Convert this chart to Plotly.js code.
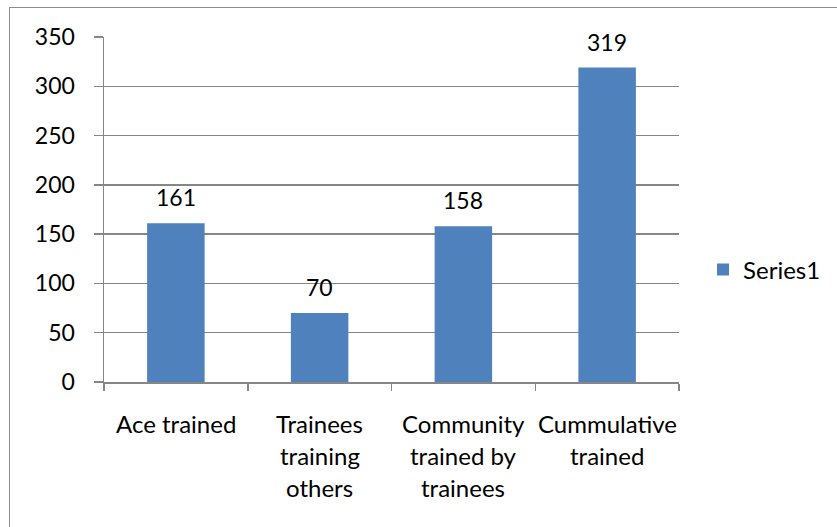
<!DOCTYPE html>
<html><head><meta charset="utf-8">
<script src="https://cdn.plot.ly/plotly-3.0.1.min.js"></script>
<style>
html,body{margin:0;padding:0;background:#fff;overflow:hidden}
#frame{position:absolute;left:9px;top:7px;width:900px;height:600px;border:1.5px solid #8c8c8c;box-sizing:border-box}
#chart{position:absolute;left:0;top:0;width:837px;height:527px}
</style></head>
<body>
<div id="frame"></div>
<div id="chart"></div>
<script>
const categories = ["Ace trained", "Trainees<br>training<br>others", "Community<br>trained by<br>trainees", "Cummulative<br>trained"];
const values = [161, 70, 158, 319];
const seriesName = "Series1";
const yTicks = [0, 50, 100, 150, 200, 250, 300, 350];

const FONT = "Lato, 'Open Sans', sans-serif";
const GRAY = "#868686";

const annotations = [];
values.forEach((v, i) => {
  annotations.push({x: i, y: v, xref: 'x', yref: 'y', text: String(v), showarrow: false,
    yanchor: 'middle', yshift: 26, font: {family: FONT, size: 23, color: '#000'}});
});
categories.forEach((c, i) => {
  c.split('<br>').forEach((line, j) => {
    annotations.push({x: i, y: 0, xref: 'x', yref: 'y', text: line, showarrow: false,
      yanchor: 'middle', yshift: -41 - 32 * j, font: {family: FONT, size: 24, color: '#000'}});
  });
});

Plotly.newPlot('chart', [{
  type: 'bar', x: [0, 1, 2, 3], y: values, name: seriesName,
  marker: {color: '#4F81BD'}, showlegend: true
}], {
  width: 837, height: 527,
  margin: {l: 104, r: 157, t: 37, b: 145, pad: 0},
  paper_bgcolor: 'rgba(0,0,0,0)', plot_bgcolor: 'rgba(0,0,0,0)',
  bargap: 0.6,
  font: {family: FONT, size: 23, color: '#000'},
  xaxis: {range: [-0.5, 3.5], tickvals: [-0.5, 0.5, 1.5, 2.5, 3.5], ticktext: ['', '', '', '', ''],
    showticklabels: false, ticks: 'outside', ticklen: 7, tickcolor: GRAY, tickwidth: 1.5,
    showgrid: false, showline: true, linecolor: GRAY, linewidth: 1.5, zeroline: false, fixedrange: true},
  yaxis: {range: [0, 350], tickvals: yTicks, ticks: 'outside', ticklen: 9, tickcolor: GRAY, tickwidth: 1.5,
    showgrid: true, gridcolor: GRAY, gridwidth: 1.5, showline: true, linecolor: GRAY, linewidth: 1.5,
    zeroline: false, tickfont: {family: FONT, size: 23}, ticklabelstandoff: 14, fixedrange: true},
  legend: {x: 1.04, y: 0.325, xanchor: 'left', yanchor: 'middle', font: {family: FONT, size: 24},
    itemwidth: 30, bgcolor: 'rgba(0,0,0,0)'},
  annotations: annotations
}, {displayModeBar: false, staticPlot: true});
</script>
</body></html>
